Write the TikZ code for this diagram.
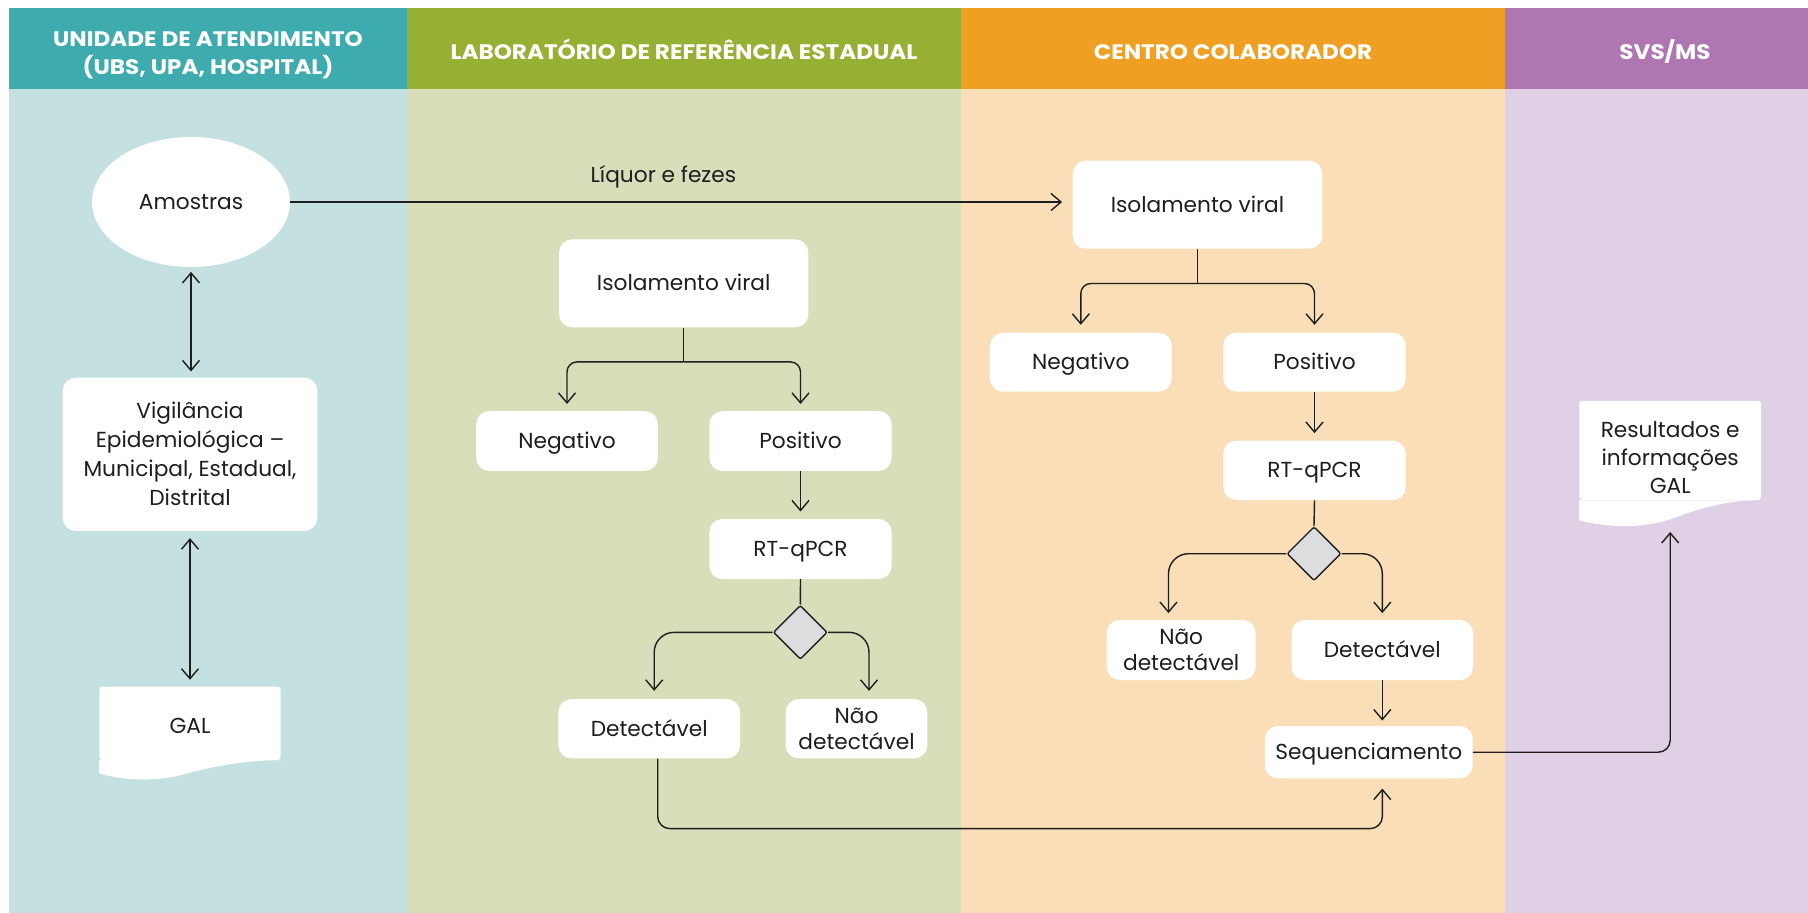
\documentclass[tikz,border=0pt]{standalone}
\usepackage{fontspec}
\setmainfont{Poppins}
\newfontfamily\lanefont{Poppins}[FakeStretch=1.1]
\usetikzlibrary{arrows.meta,shapes.geometric,calc}

\definecolor{hdTeal}{HTML}{3EABAE}
\definecolor{bgTeal}{HTML}{C5E0E1}
\definecolor{hdGreen}{HTML}{97AF33}
\definecolor{bgGreen}{HTML}{D8DEB9}
\definecolor{hdOrange}{HTML}{EFA022}
\definecolor{bgOrange}{HTML}{F9DEB7}
\definecolor{hdPurple}{HTML}{AE77B1}
\definecolor{bgPurple}{HTML}{E0D0E6}
\definecolor{ink}{HTML}{1E1E1E}
\definecolor{gem}{HTML}{DCDDDF}

\begin{document}
\begin{tikzpicture}[x=1pt,y=-1pt,
  every node/.style={font=\fontsize{21.7}{29}\selectfont, text=ink},
  card/.style={fill=white, rounded corners=13pt, inner sep=0pt, align=center},
  oneline/.style={card, text height=16pt, text depth=1.4pt},
  docbox/.style={fill=white, rounded corners=3pt, inner sep=0pt, align=center},
  hdr/.style={font=\lanefont\bfseries\fontsize{21}{28.5}\selectfont, text=white, align=center, inner sep=0pt},
  link/.style={draw=ink, line width=1.4pt},
  arr/.style={link, -{Straight Barb[length=10pt,width=17pt]}},
  darr/.style={link, {Straight Barb[length=10pt,width=17pt]}-{Straight Barb[length=10pt,width=17pt]}},
  gate/.style={diamond, draw=ink, line width=1.4pt, fill=gem, minimum width=54pt,
    minimum height=54pt, inner sep=0pt, rounded corners=2pt},
]
\useasboundingbox (0,0) rectangle (1808,913);

% swimlanes
\fill[bgTeal]   (9,89)    rectangle (407,913);
\fill[hdTeal]   (9,8)     rectangle (407,89);
\fill[bgGreen]  (407,89)  rectangle (961,913);
\fill[hdGreen]  (407,8)   rectangle (961,89);
\fill[bgOrange] (961,89)  rectangle (1505,913);
\fill[hdOrange] (961,8)   rectangle (1505,89);
\fill[bgPurple] (1505,89) rectangle (1808,913);
\fill[hdPurple] (1505,8)  rectangle (1808,89);

\node[hdr] (h1) at (208,55.2) {UNIDADE DE ATENDIMENTO\\(UBS, UPA, HOSPITAL)};
\node[hdr, anchor=base] (h2) at (684,59.3) {LABORATÓRIO DE REFERÊNCIA ESTADUAL};
\node[hdr, anchor=base] (h3) at (1233,59.3) {CENTRO COLABORADOR};
\node[hdr, anchor=base] (h4) at (1665,59.3) {SVS/MS};

% unidade de atendimento
\node[fill=white, ellipse, inner sep=0pt, minimum width=198pt, minimum height=130pt] (amo) at (191,202) {Amostras};
\node[card, minimum width=254.6pt, minimum height=153.3pt] (vig) at (190,454.3)
  {Vigilância\\Epidemiológica –\\Municipal, Estadual,\\Distrital};
\node[docbox, text height=20.2pt, text depth=0pt, minimum width=181.4pt, minimum height=73.3pt] (gal) at (190,723.3) {GAL};
\fill[white] (gal.south east) .. controls ($(gal.south east)+(-40,0)$) and ($(gal.south east)+(-75,8)$)
  .. ($(gal.south east)+(-100,15)$) .. controls ($(gal.south east)+(-130,22)$) and ($(gal.south east)+(-158,20)$)
  .. ($(gal.south west)+(0,13.3)$) -- (gal.south west) -- cycle;

% laboratorio de referencia estadual
\node[oneline, minimum width=249.3pt, minimum height=88pt] (isoL) at (683.7,283.3) {Isolamento viral};
\node[oneline, minimum width=181.7pt, minimum height=59.7pt] (negL) at (567,441) {Negativo};
\node[oneline, minimum width=182.4pt, minimum height=59.7pt] (posL) at (800.5,441) {Positivo};
\node[oneline, minimum width=182.4pt, minimum height=60pt] (rtL) at (800.5,549) {RT-qPCR};
\node[gate] (diaL) at (800.3,632.3) {};
\node[oneline, minimum width=181.7pt, minimum height=59.3pt] (detL) at (649.2,728.7) {Detectável};
\node[card, minimum width=141.6pt, minimum height=59.3pt, font=\fontsize{21.7}{25.7}\selectfont] (naoL) at (856.5,728.7) {Não\\detectável};

% centro colaborador
\node[oneline, minimum width=249.6pt, minimum height=88pt] (isoC) at (1197.5,204.7) {Isolamento viral};
\node[oneline, minimum width=181.7pt, minimum height=59pt] (negC) at (1080.8,362.2) {Negativo};
\node[oneline, minimum width=182.4pt, minimum height=59pt] (posC) at (1314.5,362.2) {Positivo};
\node[oneline, minimum width=182.4pt, minimum height=59.4pt] (rtC) at (1314.5,470.4) {RT-qPCR};
\node[gate] (diaC) at (1314,553.7) {};
\node[card, minimum width=149pt, minimum height=60pt, font=\fontsize{21.7}{26.6}\selectfont] (naoC) at (1181.2,650) {Não\\detectável};
\node[oneline, minimum width=181.4pt, minimum height=60pt] (detC) at (1382.3,650) {Detectável};
\node[oneline, minimum width=207.7pt, minimum height=52.3pt] (seq) at (1368.8,752.2) {Sequenciamento};

% svs/ms
\node[docbox, minimum width=181.7pt, minimum height=99.3pt, font=\fontsize{21.7}{28.3}\selectfont] (res) at (1670.2,450.4)
  {\rule{0pt}{30pt}Resultados e\\informações\\GAL};
\fill[white] (res.south east) .. controls ($(res.south east)+(-36,0)$) and ($(res.south east)+(-61,8)$)
  .. ($(res.south east)+(-91,19)$) .. controls ($(res.south east)+(-121,29)$) and ($(res.south east)+(-156,27)$)
  .. ($(res.south west)+(0,20)$) -- (res.south west) -- cycle;

% connectors
\draw[arr, shorten >=10.4pt] (amo.east) -- node[pos=0.477, above=13pt, inner sep=0pt] (liq) {Líquor e fezes} (amo.east -| isoC.west);
\draw[darr, shorten <=4.7pt, shorten >=6pt] (amo.south) -- (amo.south |- vig.north);
\draw[darr, shorten <=7pt, shorten >=6.7pt] (vig.south) -- (vig.south |- gal.north);

\coordinate (jL) at ($(isoL.south)+(0,34.4)$);
\draw[link] (isoL.south) -- (jL);
\draw[arr, rounded corners=10pt, shorten >=7pt] (jL) -| (negL.north);
\draw[arr, rounded corners=10pt, shorten >=7pt] (jL) -| (posL.north);
\draw[arr, shorten >=7.3pt] (posL.south) -- (rtL.north);
\draw[link] (rtL.south) -- (diaL.north);
\draw[arr, rounded corners=20pt, shorten >=8pt] (diaL.west) -| ([xshift=5pt]detL.north);
\draw[arr, rounded corners=20pt, shorten >=8pt] (diaL.east) -| ([xshift=12.5pt]naoL.north);
\draw[arr, rounded corners=12pt, shorten >=10pt] ([xshift=8.5pt]detL.south) -- ++(0,70) -| (detC.south |- seq.south);

\coordinate (jC) at ($(isoC.south)+(0,34.6)$);
\draw[link] (isoC.south) -- (jC);
\draw[arr, rounded corners=10pt, shorten >=7.7pt] (jC) -| (negC.north);
\draw[arr, rounded corners=10pt, shorten >=7.7pt] (jC) -| (posC.north);
\draw[arr, shorten >=7.4pt] (posC.south) -- (rtC.north);
\draw[link] (rtC.south) -- (diaC.north);
\draw[arr, rounded corners=20pt, shorten >=6.7pt] (diaC.west) -| ([xshift=-12.7pt]naoC.north);
\draw[arr, rounded corners=20pt, shorten >=6.7pt] (diaC.east) -| (detC.north);
\draw[arr, shorten >=5.3pt] (detC.south) -- (detC.south |- seq.north);
\draw[arr, rounded corners=12pt] (seq.east) -| ([yshift=-31.7pt]res.south);
\end{tikzpicture}
\end{document}
